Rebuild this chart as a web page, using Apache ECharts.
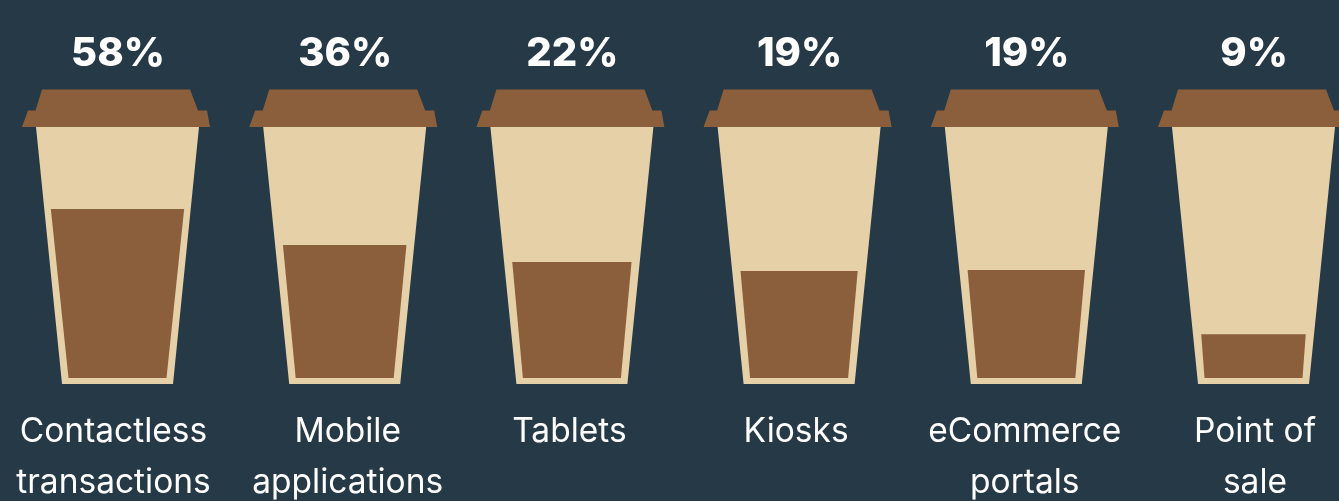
<!DOCTYPE html>
<html><head><meta charset="utf-8">
<style>html,body{margin:0;padding:0;background:#263947;overflow:hidden}#c{width:1339px;height:501px}</style>
<script src="https://cdn.jsdelivr.net/npm/echarts@6/dist/echarts.min.js"></script>
</head><body><div id="c"></div>
<script>
const categories = ['Contactless\ntransactions','Mobile\napplications','Tablets','Kiosks','eCommerce\nportals','Point of\nsale'];
const percentages = [58,36,22,19,19,9];
const fillLevels = [67.3,53,46.2,42.6,43,17.4];

const COFFEE='#8B5F3B', CREAM='#E5D0A8';
const labelNudge=[-4,3,-2.5,-3,-1.5,1.5];
const chart = echarts.init(document.getElementById('c'),null,{renderer:'canvas'});
function poly(points,fill){return {type:'polygon',shape:{points},style:{fill}};}
function renderCup(params,api){
  const i=api.value(0);
  const base=api.coord([i,0]), rim=api.coord([i,100]), level=api.coord([i,api.value(1)]);
  const cx=base[0], yB=base[1], yT=rim[1], yL=level[1];
  const h=yB-yL, hw=49+h*(0.064+0.00024*h);
  const cup=poly([[cx-81.5,yT],[cx+81.5,yT],[cx+55.5,yB+6],[cx-55.5,yB+6]],CREAM);
  const coffee=poly([[cx-hw,yL],[cx+hw,yL],[cx+49,yB],[cx-49,yB]],COFFEE);
  const lid=poly([[cx-95.5,yT],[cx-89.5,yT-16.5],[cx-82,yT-16.5],[cx-75.5,yT-37.5],[cx+72.5,yT-37.5],[cx+80.5,yT-16.5],[cx+89.5,yT-16.5],[cx+92.5,yT]],COFFEE);
  const txt={type:'text',x:cx+0.5,y:yT-73,style:{text:api.value(2)+'%',fill:'#fff',font:'800 40px Inter',textAlign:'center',textVerticalAlign:'middle'}};
  return {type:'group',children:[cup,coffee,lid,txt]};
}
chart.setOption({
  animation:false,
  backgroundColor:'#263947',
  grid:{left:3.9,top:127,width:1363.2,height:251,containLabel:false,outerBoundsMode:'none'},
  xAxis:{type:'category',
    data:categories.map((c,i)=>({value:c,textStyle:{padding:[0,Math.max(0,-2*labelNudge[i]),0,Math.max(0,2*labelNudge[i])]}})),
    axisLine:{show:false},axisTick:{show:false},splitLine:{show:false},
    axisLabel:{show:true,interval:0,hideOverlap:false,margin:29,color:'#fff',fontFamily:'Inter',fontSize:33.5,lineHeight:50.5}},
  yAxis:{type:'value',min:0,max:100,show:false},
  series:[{type:'custom',clip:false,renderItem:renderCup,encode:{x:0,y:1},
    data:categories.map((c,i)=>[i,fillLevels[i],percentages[i]])}]
});
</script></body></html>
